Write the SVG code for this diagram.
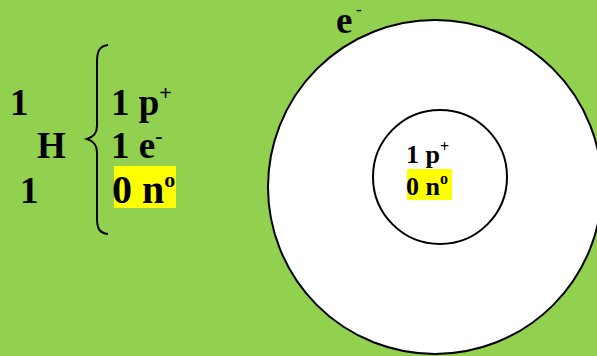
<svg xmlns="http://www.w3.org/2000/svg" width="597" height="356" viewBox="0 0 597 356">
<style>
.t{font-family:"Liberation Serif","Times New Roman",serif;font-weight:bold;fill:#000}
.big{font-size:37px}
.sm{font-size:26px}
.ring{fill:#fff;stroke:#000;stroke-width:2}
.hl{fill:#ffff00}
</style>
<rect width="597" height="356" fill="#92d050"/>
<g id="formula">
<text class="t big" x="10" y="115">1</text>
<text class="t big" x="37" y="158">H</text>
<text class="t big" x="20" y="203">1</text>
<path d="M108,45 C99,46 97,52 97,62 L97,126 C97,134 93,137 87,139 C93,141 97,144 97,152 L97,218 C97,228 99,233 108,234" fill="none" stroke="#000" stroke-width="2"/>
</g>
<g id="particles">
<text class="t big" x="111" y="115">1 p<tspan font-size="22px" dy="-15">+</tspan></text>
<text class="t big" x="111" y="158">1 e<tspan font-size="22px" dy="-15">-</tspan></text>
<rect class="hl" x="114" y="166" width="62" height="42"/>
<text class="t" x="112" y="203" style="font-size:40px">0 n<tspan font-size="22px" dy="-16">o</tspan></text>
</g>
<g id="electron-shell">
<circle class="ring" cx="435" cy="187" r="167"/>
<text class="t big" x="336" y="33">e</text>
<text class="t" x="356" y="15" style="font-size:17px">-</text>
</g>
<g id="nucleus">
<circle class="ring" cx="440" cy="177" r="67"/>
<text class="t sm" x="406" y="163">1 p<tspan font-size="16px" dy="-11">+</tspan></text>
<rect class="hl" x="407" y="169" width="45" height="31"/>
<text class="t sm" x="406" y="195">0 n<tspan font-size="16px" dy="-11">o</tspan></text>
</g>
</svg>
